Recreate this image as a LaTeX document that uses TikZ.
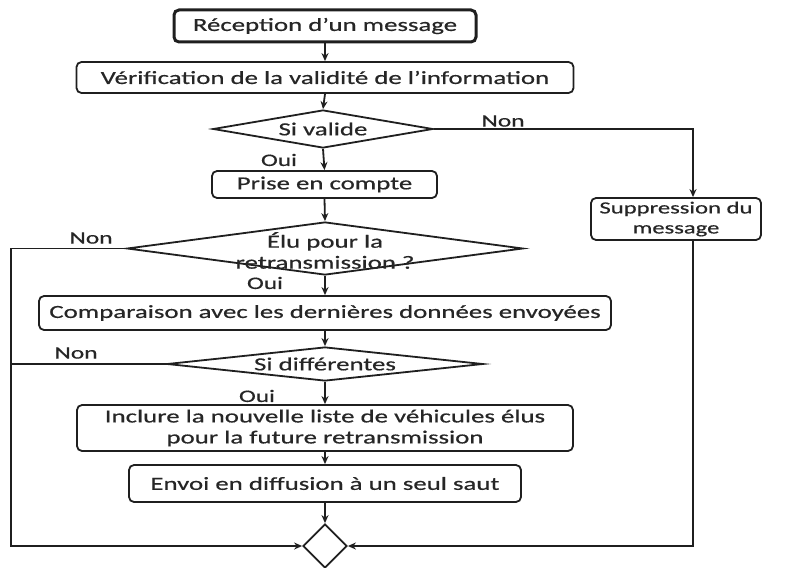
\documentclass[tikz,border=0pt]{standalone}
\usepackage{fontspec}
\setmainfont{Carlito}[FakeStretch=1.45, FakeBold=0.6]
\usetikzlibrary{arrows.meta,shapes.geometric}

\tikzset{
  x=1pt, y=-1pt,
  every node/.style={text=black!85, font=\fontsize{18.5}{21}\selectfont},
  flow/.style={draw=black!88, line width=1.8pt},
  arr/.style={flow, -{Stealth[length=8pt,width=7pt]}},
  procbox/.style={draw=black!88, line width=1.8pt, rounded corners=5pt,
                  align=center, inner sep=0pt},
  startbox/.style={procbox, line width=3pt},
  decision/.style={diamond, draw=black!88, line width=1.8pt, inner sep=0pt},
  answer/.style={font=\fontsize{17.5}{20}\selectfont}
}

\begin{document}
\begin{tikzpicture}
\useasboundingbox (0,0) rectangle (786,567);

% process steps down the main column
\node[startbox, minimum width=302pt, minimum height=32pt] (recv) at (325,26) {Réception d’un message};
\node[procbox, minimum width=497pt, minimum height=31pt] (verif) at (325,77.5) {Vérification de la validité de l’information};
\node[decision, minimum width=220pt, minimum height=38pt,
      label={center:Si valide}] (valid) at (323,129) {};
\node[procbox, minimum width=225pt, minimum height=27pt] (prise) at (324.5,184.5) {Prise en compte};
\node[decision, minimum width=396pt, minimum height=53pt,
      label={[align=center, yshift=-2pt]center:Élu pour la\\retransmission ?}] (elu) at (325,248.5) {};
\node[procbox, minimum width=572pt, minimum height=34pt] (comp) at (325,313) {Comparaison avec les dernières données envoyées};
\node[decision, minimum width=316pt, minimum height=34pt,
      label={center:Si différentes}] (diff) at (325,364) {};
\node[procbox, minimum width=496pt, minimum height=46pt] (incl) at (325,428) {Inclure la nouvelle liste de véhicules élus\\pour la future retransmission};
\node[procbox, minimum width=392pt, minimum height=37pt] (envoi) at (325,483.5) {Envoi en diffusion à un seul saut};
\node[decision, minimum width=44pt, minimum height=44pt] (merge) at (325,546) {};

% side branch for rejected messages
\node[procbox, minimum width=170pt, minimum height=42pt,
      font=\fontsize{17}{20}\selectfont] (supp) at (676,219) {Suppression du\\message};

% routing corners
\coordinate (rcol) at (693,129);
\coordinate (lcol) at (11,248.5);

% branch labels
\node[answer] (non1) at (503,121) {Non};
\node[answer] (oui1) at (279,160) {Oui};
\node[answer] (non2) at (91,238) {Non};
\node[answer] (oui2) at (265,283) {Oui};
\node[answer] (non3) at (76,353) {Non};
\node[answer] (oui3) at (257,396) {Oui};

% main flow
\draw[arr] (recv.south) -- (verif.north);
\draw[arr] (verif.south) -- (valid.north);
\draw[arr] (valid.south) -- (prise.north);
\draw[arr] (prise.south) -- (elu.north);
\draw[arr] (elu.south) -- (comp.north);
\draw[arr] (comp.south) -- (diff.north);
\draw[arr] (diff.south) -- (incl.north);
\draw[arr] (incl.south) -- (envoi.north);
\draw[arr] (envoi.south) -- (merge.north);

% "Non" branches
\draw[arr] (valid.east) -- (rcol) -- (rcol |- supp.north);
\draw[arr] (rcol |- supp.south) |- (merge.east);
\draw[arr] (elu.west) -- (lcol) |- (merge.west);
\draw[flow] (diff.west) -- (diff.west -| lcol);
\end{tikzpicture}
\end{document}
